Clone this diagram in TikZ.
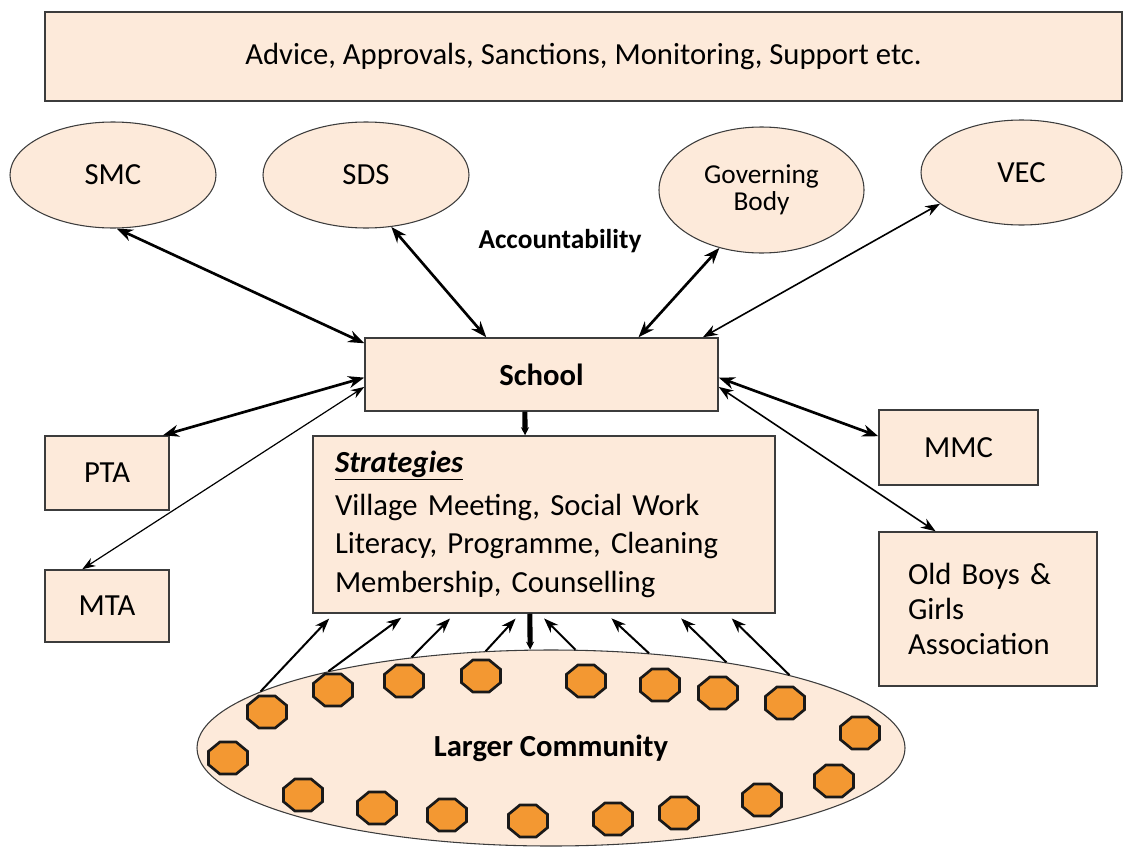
\documentclass[tikz,border=0pt]{standalone}
\usepackage{fontspec}
\setmainfont{Carlito}
\usepackage{tikz}
\usetikzlibrary{shapes.geometric, arrows.meta}
\definecolor{peachfill}{RGB}{253,234,218}
\definecolor{dotorange}{RGB}{243,152,50}
\definecolor{edgegray}{RGB}{60,60,60}

\begin{document}
\begin{tikzpicture}[x=0.75pt, y=-0.75pt,
    box/.style={rectangle, draw=edgegray, line width=1.1pt, fill=peachfill, inner sep=0pt, font=\fontsize{23}{27}\selectfont},
    blob/.style={ellipse, draw=edgegray, line width=0.8pt, fill=peachfill, inner sep=0pt, font=\fontsize{23}{27}\selectfont},
    dot/.style={regular polygon, regular polygon sides=8, draw=black!90, line width=2pt, fill=dotorange, minimum size=26pt, inner sep=0pt, xscale=1.22, transform shape},
    linkthick/.style={{Stealth[length=12pt,width=9pt]}-{Stealth[length=12pt,width=9pt]}, line width=2pt},
    linkmid/.style={{Stealth[length=11pt,width=8pt]}-{Stealth[length=11pt,width=8pt]}, line width=1.2pt},
    linkthin/.style={{Stealth[length=10pt,width=7pt]}-{Stealth[length=10pt,width=7pt]}, line width=0.9pt},
    feed/.style={-{Stealth[length=11pt,width=8pt]}, line width=1.5pt, shorten >=5pt},
    push/.style={-{Stealth[length=6pt,width=6pt]}, line width=3.8pt}]
    \useasboundingbox (0,0) rectangle (1123,846);

    % Top banner
    \node[box, minimum width=807.75pt, minimum height=66.75pt] (advice) at (583.5,56.5) {Advice, Approvals, Sanctions, Monitoring, Support etc.};

    % Bodies around the school
    \node[blob, minimum width=154.5pt, minimum height=79.5pt] (smc) at (113,175) {SMC};
    \node[blob, minimum width=154.5pt, minimum height=79.5pt] (sds) at (366,175) {SDS};
    \node[blob, minimum width=153.75pt, minimum height=94.5pt, align=center, font=\fontsize{20.5}{20.5}\selectfont] (gov) at (761.5,190) {Governing\\Body};
    \node[blob, minimum width=150.75pt, minimum height=78.75pt] (vec) at (1021.5,172.5) {VEC};
    \node[font=\bfseries\fontsize{20.5}{24}\selectfont] (acc) at (560,241) {Accountability};

    % School and strategies
    \node[box, minimum width=264.75pt, minimum height=54.75pt, font=\bfseries\fontsize{23}{27}\selectfont] (school) at (541.5,374.5) {School};
    \node[box, minimum height=132.75pt, text width=313.5pt, inner xsep=16.5pt, align=left, font=\fontsize{23}{29}\selectfont] (strat) at (544,524.5)
        {\textbf{\textit{\underline{Strategies}}}\\[3pt] Village Meeting, Social Work\\ Literacy, Programme, Cleaning\\ Membership, Counselling};

    % Side boxes
    \node[box, minimum width=93pt, minimum height=55.5pt] (pta) at (107,473) {PTA};
    \node[box, minimum width=93pt, minimum height=54pt] (mta) at (107,606) {MTA};
    \node[box, minimum width=119.25pt, minimum height=56.25pt] (mmc) at (958.5,447.5) {MMC};
    \node[box, minimum height=115.5pt, text width=120pt, inner xsep=21.75pt, align=left, font=\fontsize{23}{26}\selectfont] (ob) at (988,609)
        {Old Boys \&\\ Girls\\ Association};

    % Larger community
    \node[blob, minimum width=531pt, minimum height=147pt, font=\bfseries\fontsize{23}{27}\selectfont] (lc) at (551,748) {Larger Community};
    \foreach \px/\py in {267/712, 333/690, 404/681, 481/676, 586/681, 660/685, 718/693, 785/703, 860/733,
                         834/781, 762/800, 679/813, 613/819, 528/821, 447/815, 377/808, 303/795, 228/758}
        \node[dot] at (\px,\py) {};

    % Accountability links
    \draw[linkthick] (smc.-86) -- (school.170);
    \draw[linkthick] (sds.-64) -- (school.146);
    \draw[linkthick] (gov.-126) -- (school.21);
    \draw[linkmid] (vec.201) -- (school.13);
    \draw[linkthick] (pta.34) -- (school.181);
    \draw[linkthin] (mta.124) -- (school.184);
    \draw[linkthick] (mmc.172) -- (school.-1);
    \draw[linkmid] (ob.124) -- (school.-4);

    % Flow through the strategies
    \draw[push] (school.-114) -- (strat.102);
    \draw[push] (strat.-99) -- (lc.102);
    \foreach \a/\b in {169/-157, 161/-147, 147/-135, 124/-105, 76/-93, 44/-55, 26/-34, 17/-26}
        \draw[feed] (lc.\a) -- (strat.\b);
\end{tikzpicture}
\end{document}
